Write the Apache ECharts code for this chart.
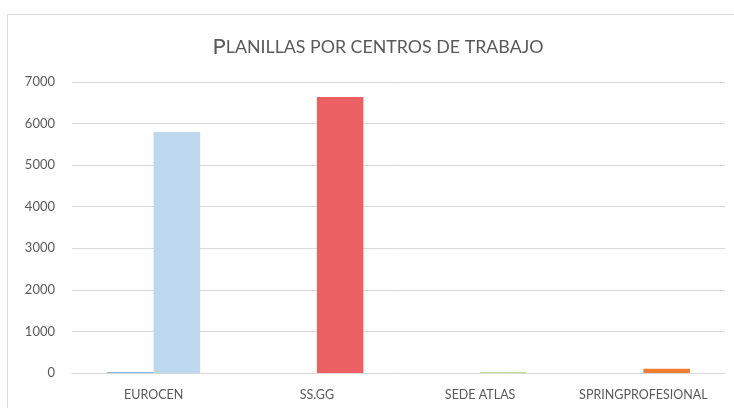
<!DOCTYPE html>
<html><head><meta charset="utf-8">
<script src="https://cdn.jsdelivr.net/npm/echarts@6/dist/echarts.min.js"></script>
<style>html,body{margin:0;padding:0;background:#fff}#c{width:734px;height:408px}</style>
</head><body><div id="c"></div>
<script>
const categories = ['EUROCEN', 'SS.GG', 'SEDE ATLAS', 'SPRINGPROFESIONAL'];
const seriesA = [20, 0, 0, 0];
const seriesB = [5800, 6640, 20, 100];
const yTicks = [0, 1000, 2000, 3000, 4000, 5000, 6000, 7000];
const colorsB = ['#BDD7EE', '#EB6063', '#A9D18E', '#ED7D31'];

const chart = echarts.init(document.getElementById('c'));
chart.setOption({
  animation: false,
  textStyle: { fontFamily: 'Lato' },
  graphic: [{
    type: 'rect', shape: { x: 7.5, y: 14.5, width: 740, height: 400 },
    style: { fill: 'none', stroke: '#d9d9d9', lineWidth: 1 }, silent: true
  }],
  title: {
    text: '{b|P}{s|LANILLAS POR CENTROS DE TRABAJO}',
    left: 373, top: 31, textAlign: 'center',
    textStyle: {
      fontWeight: 'normal',
      rich: {
        b: { fontSize: 22, color: '#595959', fontFamily: 'Lato', fontWeight: 'normal' },
        s: { fontSize: 17.8, color: '#595959', fontFamily: 'Lato', fontWeight: 'normal' }
      }
    }
  },
  grid: { left: 72, right: 9, top: 82, bottom: 35, containLabel: false },
  xAxis: {
    type: 'category', data: categories,
    axisLine: { lineStyle: { color: '#d9d9d9' } },
    axisTick: { show: false },
    axisLabel: { color: '#595959', fontSize: 12.5, margin: 15, fontFamily: 'Lato', interval: 0 }
  },
  yAxis: {
    type: 'value', min: yTicks[0], max: yTicks[yTicks.length - 1], interval: 1000,
    axisLine: { show: false }, axisTick: { show: false },
    splitLine: { lineStyle: { color: '#d9d9d9' } },
    axisLabel: { color: '#595959', fontSize: 13, margin: 17, fontFamily: 'Lato',
      formatter: v => String(v) }
  },
  series: [
    { type: 'bar', data: seriesA, barGap: '0%', barCategoryGap: '43%',
      itemStyle: { color: '#5B9BD5' } },
    { type: 'bar', data: seriesB.map((v, i) => ({ value: v, itemStyle: { color: colorsB[i] } })),
      barGap: '0%', barCategoryGap: '43%' }
  ]
});
</script></body></html>
